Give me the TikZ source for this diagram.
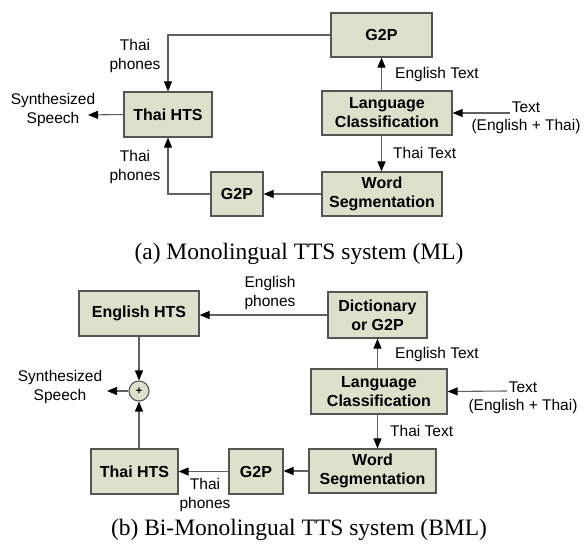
\documentclass[tikz,border=0pt]{standalone}
\usepackage{fontspec}
\setmainfont{Liberation Serif}
\setsansfont{Liberation Sans}
\usetikzlibrary{arrows.meta, positioning}
\definecolor{boxfill}{HTML}{DDE0CB}
\definecolor{boxline}{HTML}{555555}
\definecolor{wire}{HTML}{606060}
\tikzset{
x=1pt, y=-1pt, % one unit is one pixel of the page, y runs downward
>={Triangle[length=10pt,width=8pt,color=black]}, % black heads on grey lines
block/.style={draw=boxline, line width=1.2pt, fill=boxfill, align=center,
  inner sep=0pt, font=\sffamily\bfseries\fontsize{16}{19}\selectfont}, % the boxes
lbl/.style={align=center, inner sep=0pt, font=\sffamily\fontsize{15.5}{18.5}\selectfont}, % texts on the lines
captext/.style={inner sep=0pt, font=\rmfamily\fontsize{23.5}{26}\selectfont}, % captions
wire/.style={draw=wire, line width=1.1pt}, % the connectors
}

\begin{document}
\begin{tikzpicture}
\useasboundingbox (0,0) rectangle (587,545);
% (a) monolingual
\node[block, minimum width=101pt, minimum height=44pt] (g2pA) at (381.5,35) {G2P};
\node[block, minimum width=130pt, minimum height=44pt] (langA) at (387,113) {Language\\Classification};
\node[block, minimum width=120pt, minimum height=44pt] (wsegA) at (382,194) {Word\\Segmentation};
\node[block, minimum width=88pt, minimum height=45pt] (thaiA) at (168,114.5) {Thai HTS};
\node[block, minimum width=52pt, minimum height=44pt] (g2pSA) at (237,194) {G2P};
\node[lbl] (synthA) at (53,110) {Synthesized\\Speech};
\coordinate (outA) at (88,115);
\node[lbl] (textA) at (526,118) {Text\\(English + Thai)};
\coordinate (inA) at (510,113);
\path[wire,->] (g2pA.west) -| (thaiA.north);
\path[wire,->] (g2pSA.west) -| (thaiA.south);
\path[wire,->] (wsegA.west) -- (g2pSA.east);
\path[wire,->] (thaiA.west) -- (outA);
\path[wire,->] (langA.north -| g2pA.south) -- (g2pA.south);
\path[wire,->] (langA.south -| g2pA.south) -- (g2pA.south |- wsegA.north);
\path[wire,->] (inA) -- (langA.east);
\node[lbl] (phA1) at (135,56) {Thai\\phones};
\node[lbl] (phA2) at (135,167) {Thai\\phones};
\node[lbl, anchor=west] (engA) at (395,74) {English Text};
\node[lbl, anchor=west] (thtA) at (393,153) {Thai Text};
\node[captext] (capA) at (299,254) {(a) Monolingual TTS system (ML)};
% (b) bi-monolingual
\node[block, minimum width=99pt, minimum height=46pt] (dictB) at (377.5,315) {Dictionary\\or G2P};
\node[block, minimum width=136pt, minimum height=45pt] (langB) at (379,391.5) {Language\\Classification};
\node[block, minimum width=127pt, minimum height=44pt] (wsegB) at (372.5,471) {Word\\Segmentation};
\node[block, minimum width=120pt, minimum height=45pt] (engB) at (139,313.5) {English HTS};
\node[block, minimum width=87pt, minimum height=45pt] (thaiB) at (134.5,471.5) {Thai HTS};
\node[block, minimum width=54pt, minimum height=45pt] (g2pB) at (256,471.5) {G2P};
\node[draw=boxline, line width=1.1pt, fill=boxfill, circle, minimum size=20pt, inner sep=0pt,
  font=\sffamily\bfseries\fontsize{11}{11}\selectfont] (sumB) at (139,391) {+};
\node[lbl] (synthB) at (60,387) {Synthesized\\Speech};
\coordinate (outB) at (107,391);
\node[lbl] (textB) at (523,398) {Text\\(English + Thai)};
\coordinate (inB) at (507,391);
\path[wire,->] (dictB.west) -- (dictB.west -| engB.east);
\path[wire,->] (engB.south -| sumB) -- (sumB.north);
\path[wire,->] (thaiB.north -| sumB) -- (sumB.south);
\path[wire,->] (sumB.west) -- (outB);
\path[wire,->] (g2pB.west) -- (g2pB.west -| thaiB.east);
\path[wire,->] (wsegB.west) -- (wsegB.west -| g2pB.east);
\path[wire,->] (langB.north -| dictB.south) -- (dictB.south);
\path[wire,->] (langB.south -| dictB.south) -- (dictB.south |- wsegB.north);
\path[wire,->] (inB) -- (langB.east);
\node[lbl] (phB1) at (270,293) {English\\phones};
\node[lbl] (phB2) at (205,495) {Thai\\phones};
\node[lbl, anchor=west] (engB2) at (395,354) {English Text};
\node[lbl, anchor=west] (thtB) at (390,431) {Thai Text};
\node[captext] (capB) at (299,530) {(b) Bi-Monolingual TTS system (BML)};
\end{tikzpicture}
\end{document}
